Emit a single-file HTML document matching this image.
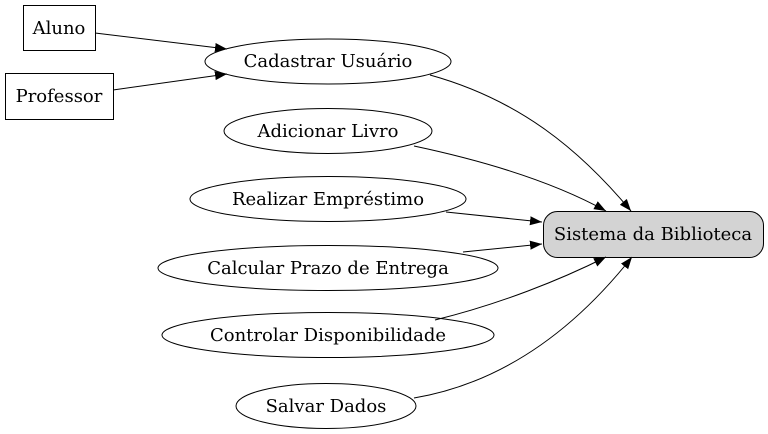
<!DOCTYPE html>
<html><head><meta charset="utf-8"><style>
html,body{margin:0;padding:0;background:#fff;}
svg{display:block;}
text{font-family:"DejaVu Serif","Liberation Serif",serif;font-size:18px;fill:#000;}
</style></head><body>
<svg width="768" height="434" viewBox="0 0 768 434" xmlns="http://www.w3.org/2000/svg">
<defs>
<marker id="a" viewBox="0 0 10 10" refX="10" refY="5" markerWidth="12" markerHeight="12" markerUnits="userSpaceOnUse" orient="auto">
<path d="M0,1.2 L10,5 L0,8.8 z" fill="#000"/>
</marker>
</defs>
<g fill="none" stroke="#000" stroke-width="1">
<rect x="23.5" y="5.5" width="72" height="45" fill="#fff"/>
<rect x="5.5" y="73.5" width="108" height="46" fill="#fff"/>
<ellipse cx="328" cy="61.5" rx="123" ry="22.5"/>
<ellipse cx="328" cy="131" rx="104" ry="22.5"/>
<ellipse cx="328" cy="199" rx="138" ry="22.5"/>
<ellipse cx="328" cy="268" rx="170" ry="22.5"/>
<ellipse cx="328" cy="335" rx="166" ry="22.5"/>
<ellipse cx="326" cy="406" rx="90" ry="22.5"/>
<rect x="543.5" y="211.5" width="220" height="46" rx="14" ry="14" fill="#d3d3d3"/>

<path d="M95,33 L227,49" marker-end="url(#a)"/>
<path d="M113,90 L227,74" marker-end="url(#a)"/>
<path d="M430,75 C520,100 580,150 631,211" marker-end="url(#a)"/>
<path d="M414,146 C480,160 550,180 606,211" marker-end="url(#a)"/>
<path d="M446,212 L542,222" marker-end="url(#a)"/>
<path d="M463,252 L542,244" marker-end="url(#a)"/>
<path d="M435,320 C500,304 560,280 606,257" marker-end="url(#a)"/>
<path d="M414,398 C520,380 590,310 632,257" marker-end="url(#a)"/>
</g>
<g text-anchor="middle">
<text x="59" y="34">Aluno</text>
<text x="59" y="102">Professor</text>
<text x="328" y="67">Cadastrar Usuário</text>
<text x="328" y="137">Adicionar Livro</text>
<text x="328" y="205">Realizar Empréstimo</text>
<text x="328" y="274">Calcular Prazo de Entrega</text>
<text x="328" y="341">Controlar Disponibilidade</text>
<text x="326" y="412">Salvar Dados</text>
<text x="653" y="240">Sistema da Biblioteca</text>
</g>
</svg>
</body></html>
